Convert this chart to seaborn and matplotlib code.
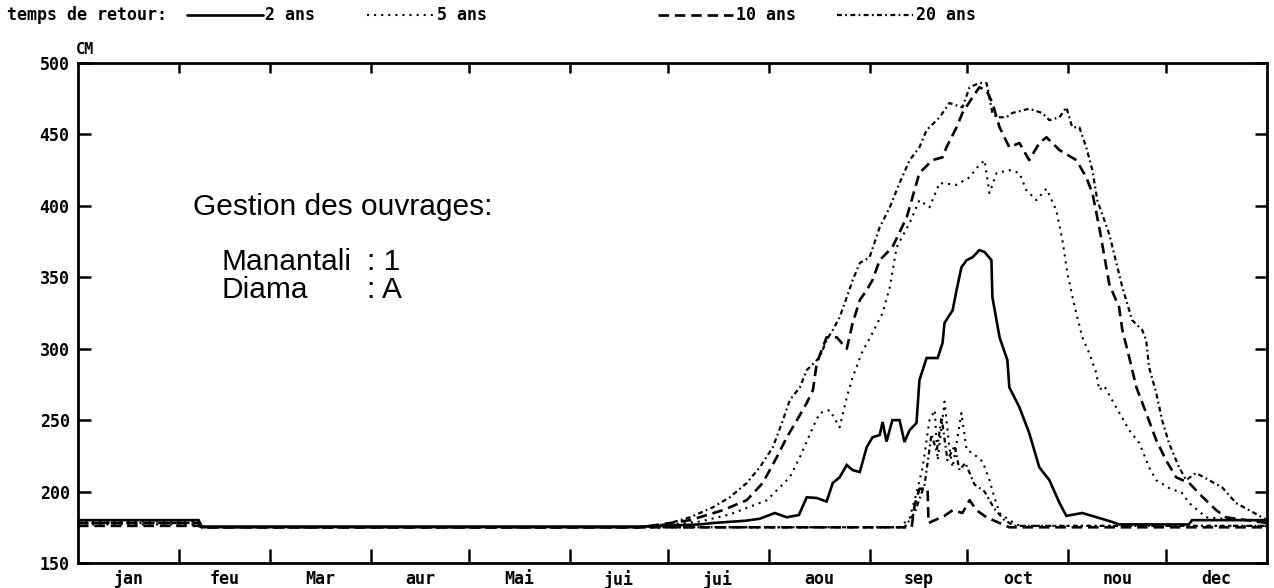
import matplotlib
matplotlib.use("Agg")
import matplotlib.pyplot as plt
from matplotlib.lines import Line2D
import seaborn as sns

# Water level (cm) against day of year for each return period
jours_2ans = [0, 37, 38, 172.5, 190.9, 194.9, 205, 209.3, 213.9, 217.6, 221.3, 223.7, 226.8, 229.8,
              231.7, 233.8, 236, 237.8, 240, 242.1, 243.9, 246.1, 247, 248.2, 250, 252.2, 253.7,
              255.3, 257.4, 258.3, 260.5, 263.9, 265.4, 266, 268.5, 269.7, 271.2, 272.8, 274.6,
              276.7, 278.3, 280.4, 280.7, 282.9, 285.3, 285.9, 289, 292, 295.1, 298.2, 301.3,
              303.4, 308.3, 313.5, 317.5, 319.6, 341, 342, 365]
cote_2ans = [180, 180, 175.5, 175.5, 177, 178, 179.6, 181, 185, 182, 183.6, 196, 195.5, 193,
             206, 210, 218.6, 215, 213.7, 231, 238, 239.6, 248.7, 235, 250, 250, 234.7,
             243, 248, 278, 293.5, 293.5, 304, 318, 327, 341, 357, 362, 364,
             369, 367.7, 362, 336, 308, 292, 273, 259, 241, 217, 208, 192,
             183, 185, 181.5, 178.7, 177, 177, 180, 180]

jours_5ans = [0, 37, 38, 172.5, 190.9, 200.1, 211.5, 218.5, 221.6, 225.6, 227.7, 230.8, 233.8, 236,
              237.8, 240.6, 243.9, 247, 249.2, 251.3, 255.3, 258.3, 261.4, 264.5, 269.7, 273.7,
              276.1, 278.3, 279.8, 282, 285.9, 289, 291.1, 294.2, 297.3, 300.3, 302.2, 303.7,
              305.9, 308.3, 310.4, 312.6, 313.5, 315, 318.7, 322.7, 325.8, 328.8, 331, 334.9,
              338.9, 341.1, 346.3, 351.2, 365]
cote_5ans = [179, 179, 175, 175, 179, 184, 194, 210, 224, 245, 255, 257, 245, 266,
             280, 297, 311, 325, 343, 371, 388, 404, 399, 416, 414.7, 420,
             427, 432, 409, 423, 425, 423, 411, 404, 412, 397, 376, 353,
             330, 308, 297, 283, 271, 274, 259, 243, 234, 217, 208, 202.5,
             199, 192, 182, 181, 179]

jours_10ans = [0, 37, 38, 172.5, 187.9, 198, 205.3, 210.2, 214.5, 217.6, 220.7, 223.7, 225.6, 226.8,
               229.8, 232.9, 236, 237.8, 240, 242.1, 243.9, 246.1, 250, 254.4, 258.3, 262.3,
               265.4, 266.6, 269.7, 271.5, 274.6, 276.7, 278.9, 280.7, 282.9, 285.9, 289, 292,
               295.1, 297.3, 301.3, 306.5, 309.5, 311.4, 313.5, 316.6, 319.6, 320.6, 322.7,
               324.9, 327.9, 331, 334, 337.1, 341.1, 345.1, 349.4, 352.4, 365]
cote_10ans = [178, 178, 175, 175, 180, 187, 194, 206, 224, 238, 250, 262, 271, 290,
              308, 308, 300, 318, 334, 341, 348, 362, 371, 392, 423, 432,
              434, 441, 455, 465, 476, 483, 481, 472, 455, 441, 444, 432,
              444, 448, 439, 432, 420, 409, 385, 345, 329, 313, 294,
              273, 255, 236, 222, 210, 206, 196.5, 187, 182, 178]

jours_20ans = [0, 37, 38, 172.5, 180.2, 187.9, 194.9, 200.1, 205.3, 209.3, 213.3, 216.4, 218.5,
               221.6, 223.7, 227.7, 229.8, 231.7, 233.8, 236, 237.8, 240, 243, 246.1, 249.2,
               252.2, 255.3, 258.3, 260.5, 264.5, 267.5, 271.5, 273.7, 276.7, 278.9, 280.7, 282,
               285, 286.8, 292, 296, 298.2, 301.3, 303.4, 305.2, 307.4, 309.5, 311.4, 312.9,
               316.6, 320.6, 323.6, 326.7, 327.9, 328.8, 331, 332.8, 334.9, 338, 340.2, 343.2,
               347.2, 351.2, 355.5, 359.5, 365]
cote_20ans = [180, 180, 175, 175, 177, 182, 189, 196, 206, 217, 231, 250, 264,
              273, 285, 294, 306, 313, 322, 336, 348, 360, 364, 385, 399,
              416, 432, 441, 453, 462, 472, 469, 483, 486, 486, 465, 462,
              462, 465, 468, 465, 460, 462, 469, 455, 455, 441, 425, 404,
              380, 343, 320, 313, 306, 287, 269, 250, 234, 217, 208, 213,
              208, 203, 192, 187, 180]

# Second set of curves staying close to the base level
jours_5ans_b = [0, 37, 38, 252.2, 255.3, 257.4, 259.3, 261.4, 263, 263.9, 266, 267.5, 268.5, 271.2,
                272.8, 274.6, 277.7, 279.8, 281.3, 282.9, 285.9, 289, 365]
cote_5ans_b = [177, 177, 175, 175, 181.5, 199, 217, 250, 257, 222, 263, 231, 217, 255,
               229, 227, 221, 208, 196, 185, 180, 176, 176]

jours_10ans_b = [0, 37, 38, 255.9, 256.8, 258.3, 260.8, 261.1, 266, 268.5, 271.5, 273.7, 275.8,
                 278.9, 282.9, 285.9, 365]
cote_10ans_b = [176, 176, 175, 175, 190, 202, 202, 178, 183, 187, 185, 194, 187,
                182, 178, 175, 175]

jours_20ans_b = [0, 37, 38, 253.7, 256.8, 259.9, 262, 263.6, 265.1, 266.9, 269.1, 270.6, 272.4,
                 275.2, 278.3, 281.3, 284.4, 287.5, 365]
cote_20ans_b = [178, 178, 175, 175, 185, 205, 240, 228, 252, 222, 232, 215, 220,
                205, 200, 188, 180, 176, 176]

mois = ["jan", "feu", "Mar", "aur", "Mai", "jui", "jui", "aou", "sep", "oct", "nou", "dec"]
debut_mois = [0, 31, 59, 90, 120, 151, 181, 212, 243, 273, 304, 334, 365]
niveaux = [150, 200, 250, 300, 350, 400, 450, 500]
periodes = ["2 ans", "5 ans", "10 ans", "20 ans"]

sns.set_theme(style="white", rc={"text.color": "black", "xtick.color": "black",
                                 "ytick.color": "black", "axes.labelcolor": "black"})
plt.rcParams["font.family"] = ["DejaVu Sans Mono", "DejaVu Sans"]

W, H = 1274, 588
fig = plt.figure(figsize=(W / 100, H / 100), dpi=100)
fig.patch.set_facecolor("white")
ax = fig.add_axes([78 / W, 25 / H, 1189 / W, 500 / H])
ax.set_facecolor("white")

styles = {
    "2 ans": dict(lw=1.9, linestyle="-"),
    "5 ans": dict(lw=1.5, linestyle=(0, (1.0, 2.4))),
    "10 ans": dict(lw=1.9, linestyle=(0, (4.0, 2.2))),
    "20 ans": dict(lw=1.6, linestyle=(0, (2.2, 1.5, 0.8, 1.5))),
}

series = [
    (jours_2ans, cote_2ans, "2 ans"),
    (jours_5ans, cote_5ans, "5 ans"),
    (jours_10ans, cote_10ans, "10 ans"),
    (jours_20ans, cote_20ans, "20 ans"),
    (jours_5ans_b, cote_5ans_b, "5 ans"),
    (jours_10ans_b, cote_10ans_b, "10 ans"),
    (jours_20ans_b, cote_20ans_b, "20 ans"),
]
for jours, cote, nom in series:
    sns.lineplot(x=jours, y=cote, ax=ax, color="black", estimator=None, sort=False,
                 legend=False, dash_capstyle="butt", solid_joinstyle="miter", **styles[nom])

ax.set_xlim(0, 365)
ax.set_ylim(150, 500)
ax.set_xlabel("")
ax.set_ylabel("")

for side in ["left", "right", "top", "bottom"]:
    ax.spines[side].set_visible(True)
    ax.spines[side].set_color("black")
    ax.spines[side].set_linewidth(2.0)

tick_font = dict(family=["DejaVu Sans Mono"], weight="bold", size=12, color="black")

# month boundaries as inward ticks, month names centred in each month
ax.set_xticks(debut_mois[1:-1])
ax.set_xticklabels([])
ax.set_xticks([(a + b) / 2 for a, b in zip(debut_mois[:-1], debut_mois[1:])], minor=True)
ax.set_xticklabels(mois, minor=True, fontdict=tick_font)
ax.tick_params(axis="x", which="major", direction="in", length=10, width=1.8,
               bottom=True, top=False, color="black")
ax.tick_params(axis="x", which="minor", length=0, pad=5, bottom=True, top=False)

top = ax.secondary_xaxis("top")
top.set_xticks(debut_mois[1:-1])
top.set_xticklabels([])
top.tick_params(direction="in", length=7, width=1.8, color="black")
top.spines["top"].set_visible(False)

ax.set_yticks(niveaux)
ax.set_yticklabels([str(v) for v in niveaux], fontdict=tick_font)
ax.tick_params(axis="y", which="major", direction="in", length=9, width=1.8,
               left=True, right=True, pad=6, color="black")

fig.text(76 / W, 1 - 50 / H, "CM", ha="left", va="center", color="black",
         family=["DejaVu Sans Mono"], weight="bold", size=11)

# legend line across the top
leg_font = dict(family=["DejaVu Sans Mono"], weight="bold", size=12, color="black")
y_leg = 1 - 15 / H
fig.text(7 / W, y_leg, "temps de retour:", ha="left", va="center", **leg_font)
leg_pos = [(187, 263, 265), (367, 433, 437), (658, 733, 736), (837, 913, 916)]
for nom, (x0, x1, xt) in zip(periodes, leg_pos):
    fig.add_artist(Line2D([x0 / W, x1 / W], [y_leg, y_leg], transform=fig.transFigure,
                          color="black", dash_capstyle="butt", **styles[nom]))
    fig.text(xt / W, y_leg, nom, ha="left", va="center", **leg_font)

# reservoir management annotation
note_font = dict(family=["Liberation Sans", "DejaVu Sans"], size=21.5, color="black")
fig.text(193 / W, 1 - 215 / H, "Gestion des ouvrages:", ha="left", va="baseline", **note_font)
fig.text(222 / W, 1 - 270 / H, "Manantali", ha="left", va="baseline", **note_font)
fig.text(367 / W, 1 - 270 / H, ": 1", ha="left", va="baseline", **note_font)
fig.text(222 / W, 1 - 298 / H, "Diama", ha="left", va="baseline", **note_font)
fig.text(367 / W, 1 - 298 / H, ": A", ha="left", va="baseline", **note_font)

fig.savefig("out.png", dpi=100, facecolor="white")
